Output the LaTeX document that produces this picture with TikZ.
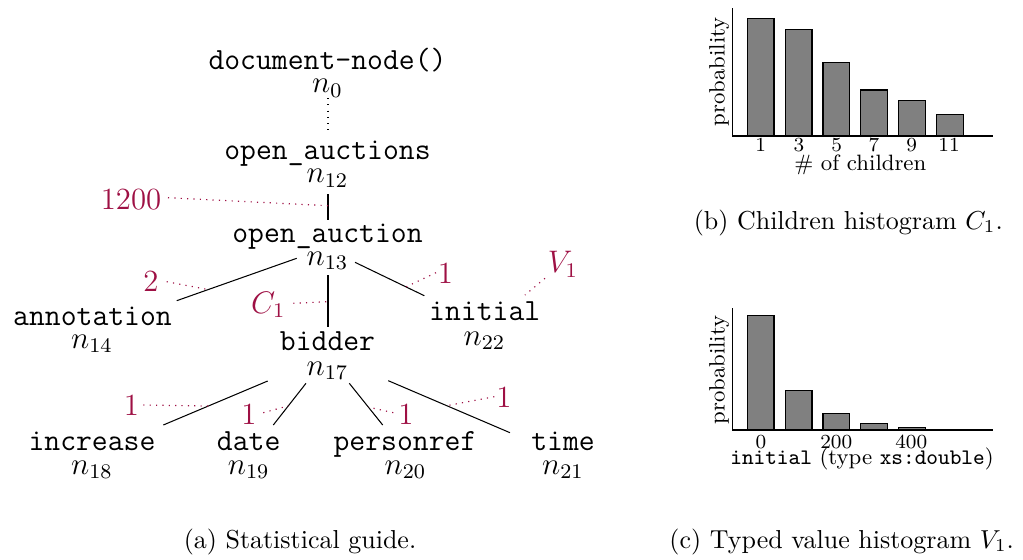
\documentclass[tikz,border=0pt]{standalone}
\usetikzlibrary{calc}
\definecolor{lbl}{RGB}{158,16,68}
\begin{document}
\begin{tikzpicture}[x=0.385pt,y=-0.385pt,
  tname/.style={anchor=base,inner sep=0pt,font=\fontsize{11.86}{14}\selectfont\ttfamily},
  tid/.style={anchor=base,inner sep=0pt,font=\fontsize{11.86}{14}\selectfont},
  lab/.style={anchor=base,inner sep=0pt,text=lbl,font=\fontsize{11.86}{14}\selectfont},
  treeedge/.style={draw=black,line width=0.4pt},
  annline/.style={draw=lbl,dotted,line width=0.45pt},
  histbar/.style={draw=black,fill=gray,line width=0.5pt},
  histaxis/.style={draw=black,line width=0.5pt},
  ticklab/.style={anchor=base,inner sep=0pt,font=\fontsize{7.7}{9}\selectfont},
  axlab/.style={inner sep=0pt,font=\fontsize{8.55}{10}\selectfont},
  captext/.style={anchor=base,inner sep=0pt,font=\fontsize{10}{12}\selectfont}]
\useasboundingbox (0,0) rectangle (1023,559);

% ---------- tree nodes ----------
\node[tname] (doc)  at (327.5,69.3)  {document-node()};
\node[tid]   (i0)   at (327.5,92.7)  {$n_0$};
\node[tname] (oas)  at (327.5,159.5) {open\_auctions};
\node[tid]   (i12)  at (327.5,182.7) {$n_{12}$};
\node[tname] (oa)   at (327.5,242.3) {open\_auction};
\node[tid]   (i13)  at (327.5,265)   {$n_{13}$};
\node[tname] (ann)  at (92.5,325)    {annotation};
\node[tid]   (i14)  at (92,348.3)    {$n_{14}$};
\node[tname] (bid)  at (327.5,350)   {bidder};
\node[tid]   (i17)  at (327.5,375)   {$n_{17}$};
\node[tname] (ini)  at (484.7,320.7) {initial};
\node[tid]   (i22)  at (484.5,345)   {$n_{22}$};
\node[tname] (inc)  at (92,450)      {increase};
\node[tid]   (i18)  at (92,474)      {$n_{18}$};
\node[tname] (date) at (248.7,450)   {date};
\node[tid]   (i19)  at (248.7,474)   {$n_{19}$};
\node[tname] (pref) at (405,450)     {personref};
\node[tid]   (i20)  at (405.5,474)   {$n_{20}$};
\node[tname] (time) at (563,450)     {time};
\node[tid]   (i21)  at (563,474)     {$n_{21}$};

% ---------- tree edges ----------
\draw[dotted,line width=0.4pt] ($(i0.base)+(0.5,5.5)$) -- ($(oas.base)+(0.5,-26.5)$);
\draw[treeedge] ($(i12.base)+(0.5,11.3)$) -- ($(oa.base)+(0.5,-22.3)$) coordinate[pos=0.45] (m2);
\draw[treeedge] ($(i13.base)+(-30.8,-6.7)$) -- ($(ann.base)+(84.2,-24.3)$) coordinate[pos=0.737] (m3);
\draw[treeedge] ($(i13.base)+(0.5,10)$) -- ($(bid.base)+(0.5,-22.7)$) coordinate[pos=0.51] (m4);
\draw[treeedge] ($(i13.base)+(27.5,-2.7)$) -- ($(ini.base)+(-60.4,-25)$) coordinate[pos=0.736] (m5);
\draw[treeedge] ($(i17.base)+(-59.8,6)$) -- ($(inc.base)+(71.3,-25)$) coordinate[pos=0.569] (m6);
\draw[treeedge] ($(i17.base)+(-21.5,8.3)$) -- ($(date.base)+(24.6,-25)$) coordinate[pos=0.54] (m7);
\draw[treeedge] ($(i17.base)+(21.8,8.3)$) -- ($(pref.base)+(-22.3,-25)$) coordinate[pos=0.57] (m8);
\draw[treeedge] ($(i17.base)+(60.8,5.7)$) -- ($(time.base)+(-53,-17.3)$) coordinate[pos=0.48] (m9);
\coordinate (vend) at ($(ini.base)+(40.3,-25.7)$);

% ---------- annotation labels ----------
\node[lab] (l1200) at (131,209)     {1200};
\node[lab] (l2)    at (151,291.7)   {2};
\node[lab] (lC)    at (268.3,313.3) {$C_1$};
\node[lab] (l5)    at (445.5,283.3) {1};
\node[lab] (lV)    at (563,272.5)   {$V_1$};
\node[lab] (l6)    at (131.3,415.7) {1};
\node[lab] (l7)    at (249,424)     {1};
\node[lab] (l8)    at (405.8,424)   {1};
\node[lab] (l9)    at (504,407.7)   {1};

\draw[annline] ($(l1200.base)+(37,-11.3)$) -- (m2);
\draw[annline] ($(l2.base)+(15.7,-10)$) -- (m3);
\draw[annline] ($(lC.base)+(25,-10)$) -- (m4);
\draw[annline] ($(l5.base)+(-9.5,-10.6)$) -- (m5);
\draw[annline] ($(lV.base)+(-18,5.8)$) -- (vend);
\draw[annline] ($(l6.base)+(12,-10.7)$) -- (m6);
\draw[annline] ($(l7.base)+(14.3,-11.3)$) -- (m7);
\draw[annline] ($(l8.base)+(-12.5,-11.3)$) -- (m8);
\draw[annline] ($(l9.base)+(-9.7,-11)$) -- (m9);

\node[captext] (capa) at (300,548.5) {(a) Statistical guide.};

% ---------- histogram (b) ----------
\foreach \x/\t in {747.3/18.3, 785.3/29.3, 823/62.3, 860.7/90, 898.7/100.3, 936.7/114.3}
  \draw[histbar] (\x,136) rectangle (\x+26.7,\t);
\draw[histaxis] (732.3,8.3) -- (732.3,136) -- (993.3,136);
\foreach \x/\l in {760.7/1, 799/3, 836.7/5, 874/7, 911.7/9, 949/11}
  \node[ticklab] (tb\l) at (\x,151.7) {\l};
\node[axlab,anchor=base] (xlb) at (860.3,170) {\# of children};
\node[axlab,rotate=90] (ylb) at (719.2,71.7) {probability};
\node[captext] (capb) at (848.3,229) {(b) Children histogram $C_1$.};

% ---------- histogram (c) ----------
\foreach \x/\t in {747.3/315.7, 785.3/390.3, 823/413.7, 860.7/423.7, 898.7/427.7, 936.7/429.6}
  \draw[histbar] (\x,430) rectangle (\x+26.7,\t);
\draw[histaxis] (732.3,308.3) -- (732.3,430) -- (993.3,430);
\foreach \x/\l in {761/0, 836.3/200, 911.3/400}
  \node[ticklab] (tc\l) at (\x,448.8) {\l};
\node[axlab,anchor=base] (xlc) at (862,464.7) {\texttt{initial} (type \texttt{xs:double})};
\node[axlab,rotate=90] (ylc) at (719.2,370) {probability};
\node[captext] (capc) at (841.7,548) {(c) Typed value histogram $V_1$.};
\end{tikzpicture}
\end{document}
